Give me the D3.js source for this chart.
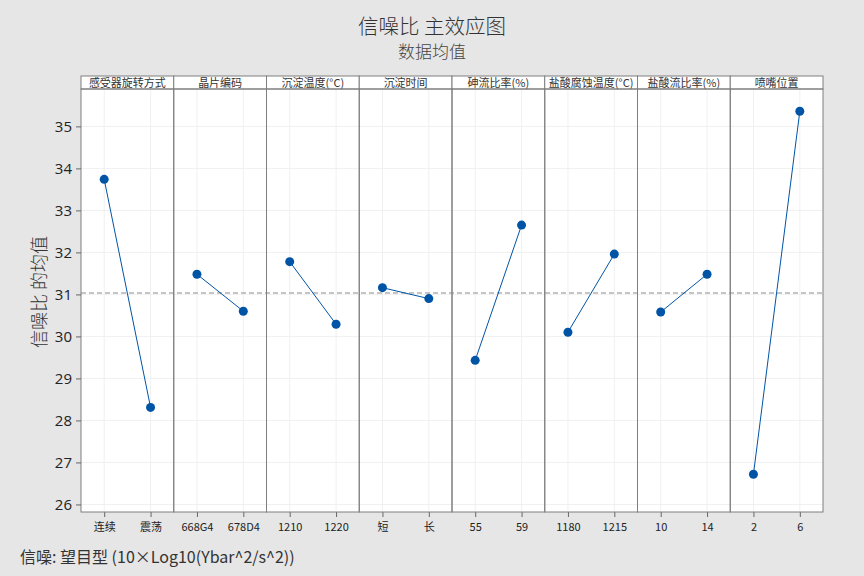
<!DOCTYPE html>
<html>
<head>
<meta charset="utf-8">
<script src="https://cdn.jsdelivr.net/npm/d3@7"></script>
<style>
  body { margin: 0; background: #e6e6e6; }
  svg { display: block; font-family: "Noto Sans CJK SC", "Noto Sans", sans-serif; }
</style>
</head>
<body>
<div id="chart"></div>
<script>
// Factors, levels and S/N means
const factors = ["感受器旋转方式", "晶片编码", "沉淀温度(°C)", "沉淀时间", "砷流比率(%)", "盐酸腐蚀温度(°C)", "盐酸流比率(%)", "喷嘴位置"];
const levels = [["连续", "震荡"], ["668G4", "678D4"], ["1210", "1220"], ["短", "长"], ["55", "59"], ["1180", "1215"], ["10", "14"], ["2", "6"]];
const means = [[33.74, 28.31], [31.48, 30.60], [31.78, 30.29], [31.16, 30.90], [29.43, 32.65], [30.10, 31.96], [30.58, 31.48], [26.72, 35.36]];
const yTicks = [26, 27, 28, 29, 30, 31, 32, 33, 34, 35];

const W = 864, H = 576;
const margin = { top: 89, right: 41, bottom: 64, left: 81 };
const headerH = 13;
const plotW = W - margin.left - margin.right;
const plotH = H - margin.top - margin.bottom;

const svg = d3.select("#chart").append("svg")
    .attr("width", W)
    .attr("height", H);

svg.append("rect").attr("width", W).attr("height", H).attr("fill", "#e6e6e6");

// Titles
svg.append("text")
    .attr("x", W / 2).attr("y", 34)
    .attr("text-anchor", "middle")
    .attr("font-size", 20.5)
    .attr("font-weight", 300)
    .attr("fill", "#333")
    .text("信噪比 主效应图");
svg.append("text")
    .attr("x", W / 2).attr("y", 58)
    .attr("text-anchor", "middle")
    .attr("font-size", 17)
    .attr("font-weight", 300)
    .attr("fill", "#444")
    .text("数据均值");

// Scales
const y = d3.scaleLinear().domain([25.82, 35.89]).range([margin.top + plotH, margin.top]);
const panel = d3.scaleBand().domain(factors).range([margin.left, margin.left + plotW]);

const g = svg.append("g");

// white plot background
g.append("rect")
    .attr("x", margin.left).attr("y", margin.top)
    .attr("width", plotW).attr("height", plotH)
    .attr("fill", "#fff");

// horizontal grid
g.selectAll(".hgrid").data(yTicks).join("line")
    .attr("x1", margin.left).attr("x2", margin.left + plotW)
    .attr("y1", d => y(d)).attr("y2", d => y(d))
    .attr("stroke", "#f0f0f0");

// overall mean
const grand = d3.mean(means.flat());

factors.forEach((f, i) => {
    const x0 = panel(f);
    const x = d3.scalePoint().domain(levels[i]).range([x0, x0 + panel.bandwidth()]).padding(0.5);
    const pg = g.append("g");

    // vertical grid at levels
    pg.selectAll("line.vgrid").data(levels[i]).join("line")
        .attr("x1", d => x(d)).attr("x2", d => x(d))
        .attr("y1", margin.top).attr("y2", margin.top + plotH)
        .attr("stroke", "#f0f0f0");

    // x axis
    pg.append("g")
        .attr("transform", `translate(0,${margin.top + plotH})`)
        .call(d3.axisBottom(x).tickSize(5).tickPadding(6))
        .call(a => a.select(".domain").remove())
        .call(a => a.selectAll("line").attr("stroke", "#666"))
        .call(a => a.selectAll("text").attr("font-size", 11).attr("fill", "#222")
            .attr("font-family", "'Noto Sans CJK SC', sans-serif"));

    // header box
    pg.append("rect")
        .attr("x", x0).attr("y", margin.top - headerH)
        .attr("width", panel.bandwidth()).attr("height", headerH)
        .attr("fill", "#fff").attr("stroke", "#7f7f7f");
    pg.append("text")
        .attr("x", x0 + panel.bandwidth() / 2).attr("y", margin.top - 2.5)
        .attr("text-anchor", "middle")
        .attr("font-size", 11)
        .attr("fill", "#333")
        .text(f);
});

// mean reference line
g.append("line")
    .attr("x1", margin.left).attr("x2", margin.left + plotW)
    .attr("y1", y(grand)).attr("y2", y(grand))
    .attr("stroke", "#8c8c8c").attr("stroke-dasharray", "5,3");

// lines and points
factors.forEach((f, i) => {
    const x0 = panel(f);
    const x = d3.scalePoint().domain(levels[i]).range([x0, x0 + panel.bandwidth()]).padding(0.5);
    const pts = levels[i].map((l, j) => [x(l), y(means[i][j])]);
    g.append("path")
        .attr("d", d3.line()(pts))
        .attr("fill", "none")
        .attr("stroke", "#0054a6")
        .attr("stroke-width", 1);
    g.selectAll(null).data(pts).join("circle")
        .attr("cx", d => d[0]).attr("cy", d => d[1])
        .attr("r", 4.5)
        .attr("fill", "#0054a6");
});

// panel borders
factors.forEach(f => {
    g.append("rect")
        .attr("x", panel(f)).attr("y", margin.top)
        .attr("width", panel.bandwidth()).attr("height", plotH)
        .attr("fill", "none").attr("stroke", "#7f7f7f");
});

// y axis
svg.append("g")
    .attr("transform", `translate(${margin.left},0)`)
    .call(d3.axisLeft(y).tickValues(yTicks).tickSize(5).tickPadding(4))
    .call(a => a.select(".domain").remove())
    .call(a => a.selectAll("line").attr("stroke", "#666"))
    .call(a => a.selectAll("text").attr("font-size", 15).attr("fill", "#222")
        .attr("font-family", "'Open Sans', sans-serif"));

// y label
svg.append("text")
    .attr("transform", `translate(46,292) rotate(-90)`)
    .attr("text-anchor", "middle")
    .attr("font-size", 18)
    .attr("font-weight", 300)
    .attr("fill", "#333")
    .text("信噪比 的均值");

// footnote
svg.append("text")
    .attr("x", 20).attr("y", 563)
    .attr("font-size", 16)
    .attr("fill", "#333")
    .text("信噪: 望目型 (10×Log10(Ybar^2/s^2))");
</script>
</body>
</html>
